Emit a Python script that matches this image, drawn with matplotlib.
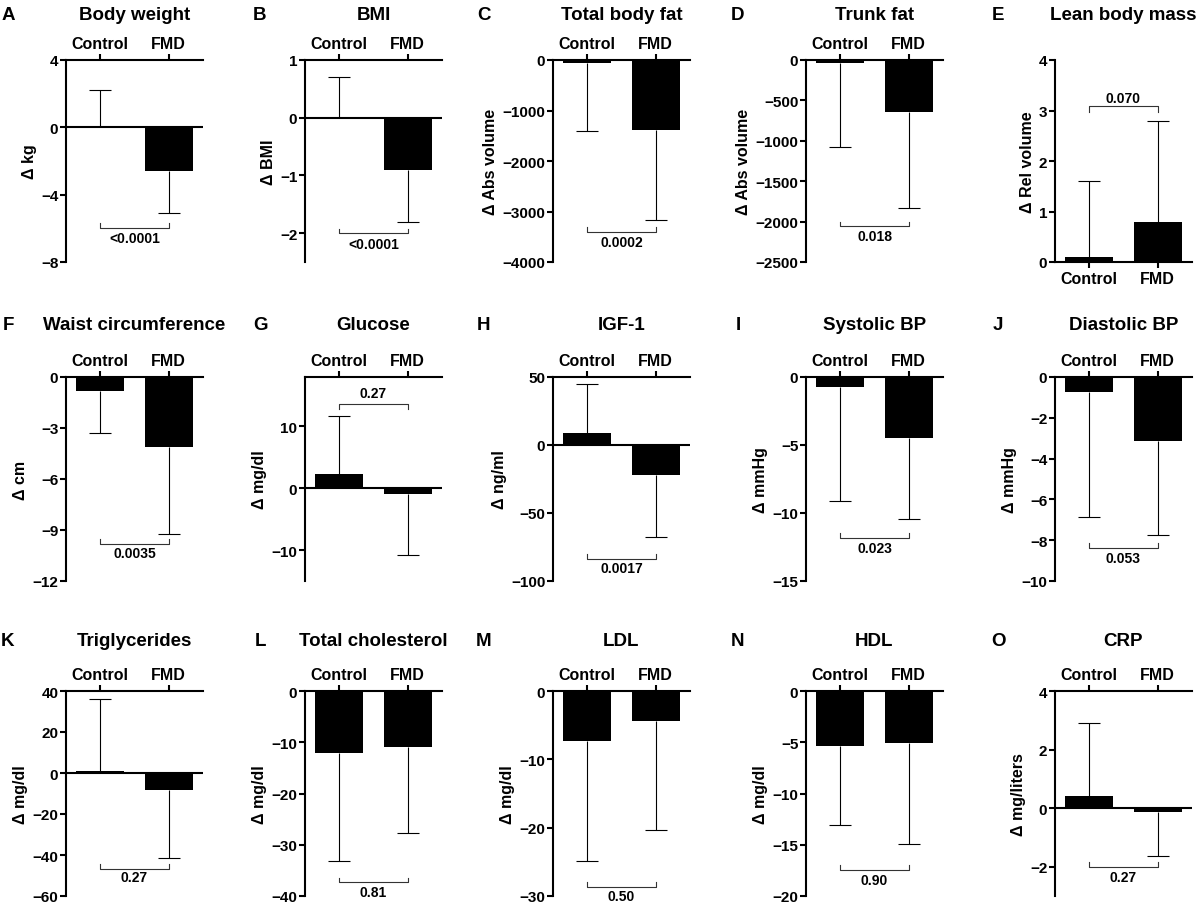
import matplotlib
matplotlib.use('Agg')
import matplotlib.pyplot as plt

plt.rcParams['font.family'] = ['Liberation Sans', 'DejaVu Sans']
plt.rcParams['font.weight'] = 'bold'

# ---------------- data ----------------
letters = ['A', 'B', 'C', 'D', 'E', 'F', 'G', 'H', 'I', 'J', 'K', 'L', 'M', 'N', 'O']
titles = ['Body weight', 'BMI', 'Total body fat', 'Trunk fat', 'Lean body mass',
          'Waist circumference', 'Glucose', 'IGF-1', 'Systolic BP', 'Diastolic BP',
          'Triglycerides', 'Total cholesterol', 'LDL', 'HDL', 'CRP']
ylabels = ['Δ kg', 'Δ BMI', 'Δ Abs volume', 'Δ Abs volume', 'Δ Rel volume',
           'Δ cm', 'Δ mg/dl', 'Δ ng/ml', 'Δ mmHg', 'Δ mmHg',
           'Δ mg/dl', 'Δ mg/dl', 'Δ mg/dl', 'Δ mg/dl', 'Δ mg/liters']
groups = ['Control', 'FMD']

ylims = [(-8, 4), (-2.5, 1), (-4000, 0), (-2500, 0), (0, 4),
         (-12, 0), (-15, 18), (-100, 50), (-15, 0), (-10, 0),
         (-60, 40), (-40, 0), (-30, 0), (-20, 0), (-3, 4)]
yticks = [[-8, -4, 0, 4], [-2, -1, 0, 1], [-4000, -3000, -2000, -1000, 0],
          [-2500, -2000, -1500, -1000, -500, 0], [0, 1, 2, 3, 4],
          [-12, -9, -6, -3, 0], [-10, 0, 10], [-100, -50, 0, 50], [-15, -10, -5, 0],
          [-10, -8, -6, -4, -2, 0],
          [-60, -40, -20, 0, 20, 40], [-40, -30, -20, -10, 0], [-30, -20, -10, 0],
          [-20, -15, -10, -5, 0], [-2, 0, 2, 4]]

control_mean = [0.1, 0.0, -55, -40, 0.1, -0.84, 2.3, 9, -0.7, -0.72, 1.2, -12.0, -7.3, -5.35, 0.42]
control_tip = [2.2, 0.7, -1400, -1075, 1.6, -3.3, 11.7, 45, -9.1, -6.85, 36, -33.2, -24.9, -13.05, 2.9]
fmd_mean = [-2.6, -0.9, -1395, -645, 0.8, -4.1, -0.85, -22, -4.5, -3.12, -8.3, -11.0, -4.45, -5.05, -0.13]
fmd_tip = [-5.1, -1.8, -3170, -1835, 2.8, -9.25, -10.75, -68, -10.45, -7.75, -41.4, -27.8, -20.35, -14.95, -1.62]

pvals = ['<0.0001', '<0.0001', '0.0002', '0.018', '0.070',
         '0.0035', '0.27', '0.0017', '0.023', '0.053',
         '0.27', '0.81', '0.50', '0.90', '0.27']
bracket_line = [-5.97, -2.0, -3410, -2060, 3.08, -9.82, 13.7, -84, -11.86, -8.39,
                -46.6, -37.3, -28.7, -17.45, -2.01]
bracket_end = [-5.67, -1.92, -3310, -2000, 2.98, -9.5, 12.8, -80, -11.5, -8.15,
               -44.4, -36.4, -27.9, -16.96, -1.85]
pval_y = [-6.55, -2.18, -3600, -2180, 3.25, -10.35, 15.4, -90.6, -12.6, -8.85,
          -50.7, -39.2, -30.0, -18.4, -2.36]

# ---------------- layout ----------------
W, H = 1200, 904
col_left = [66, 305, 553, 806, 1055]
ax_w = 137
row_top = [61, 378, 692]
row_h = [202, 204, 205]
title_y = [15, 326, 642]
letter_x = [8, 260, 484, 738, 998]

fig = plt.figure(figsize=(W / 100, H / 100), dpi=100)

for i in range(15):
    r, c = divmod(i, 5)
    left = col_left[c]
    top = row_top[r]
    h = row_h[r]
    ax = fig.add_axes([left / W, 1 - (top + h) / H, ax_w / W, h / H])
    x = [0, 1]
    means = [control_mean[i], fmd_mean[i]]
    tips = [control_tip[i], fmd_tip[i]]
    ax.bar(x, means, width=0.7, color='black', zorder=2)
    for xi, m, t in zip(x, means, tips):
        ax.vlines(xi, m, t, color='black', lw=0.8, zorder=1)
        ax.hlines(t, xi - 0.16, xi + 0.16, color='black', lw=0.8, zorder=1)
    ax.set_xlim(-0.5, 1.5)
    lo, hi = ylims[i]
    ax.set_ylim(lo, hi)
    ax.set_yticks(yticks[i])
    ax.set_xticks(x)
    ax.set_xticklabels(groups, fontsize=11.5, fontweight='bold')
    for lab in ax.get_yticklabels():
        lab.set_fontweight('bold')
    ax.tick_params(axis='y', labelsize=11, length=4, width=1.5, direction='out', pad=1.5)
    ax.tick_params(axis='x', length=4.5, width=1.5, direction='out', pad=2)
    ax.spines['right'].set_visible(False)
    ax.spines['left'].set_linewidth(1.5)
    if lo >= 0:
        ax.spines['top'].set_visible(False)
        ax.spines['bottom'].set_linewidth(1.5)
    else:
        ax.spines['bottom'].set_visible(False)
        ax.spines['top'].set_linewidth(1.5)
        ax.xaxis.set_ticks_position('top')
        ax.xaxis.set_label_position('top')
        if hi > 0:
            ax.axhline(0, color='black', lw=1.5, zorder=3)
    ax.set_ylabel(ylabels[i], fontsize=11.5, fontweight='bold', labelpad=3)
    # significance bracket
    ax.plot([0, 0, 1, 1], [bracket_end[i], bracket_line[i], bracket_line[i], bracket_end[i]],
            color='#333333', lw=0.8, clip_on=False)
    ax.text(0.5, pval_y[i], pvals[i], ha='center', va='center', fontsize=10,
            fontweight='bold', clip_on=False)
    # title and panel letter
    fig.text((left + ax_w / 2) / W, 1 - title_y[r] / H, titles[i], ha='center', va='center',
             fontsize=13.5, fontweight='bold')
    fig.text(letter_x[c] / W, 1 - title_y[r] / H, letters[i], ha='center', va='center',
             fontsize=13.5, fontweight='bold')

fig.savefig('out.png', dpi=100, facecolor='white')
